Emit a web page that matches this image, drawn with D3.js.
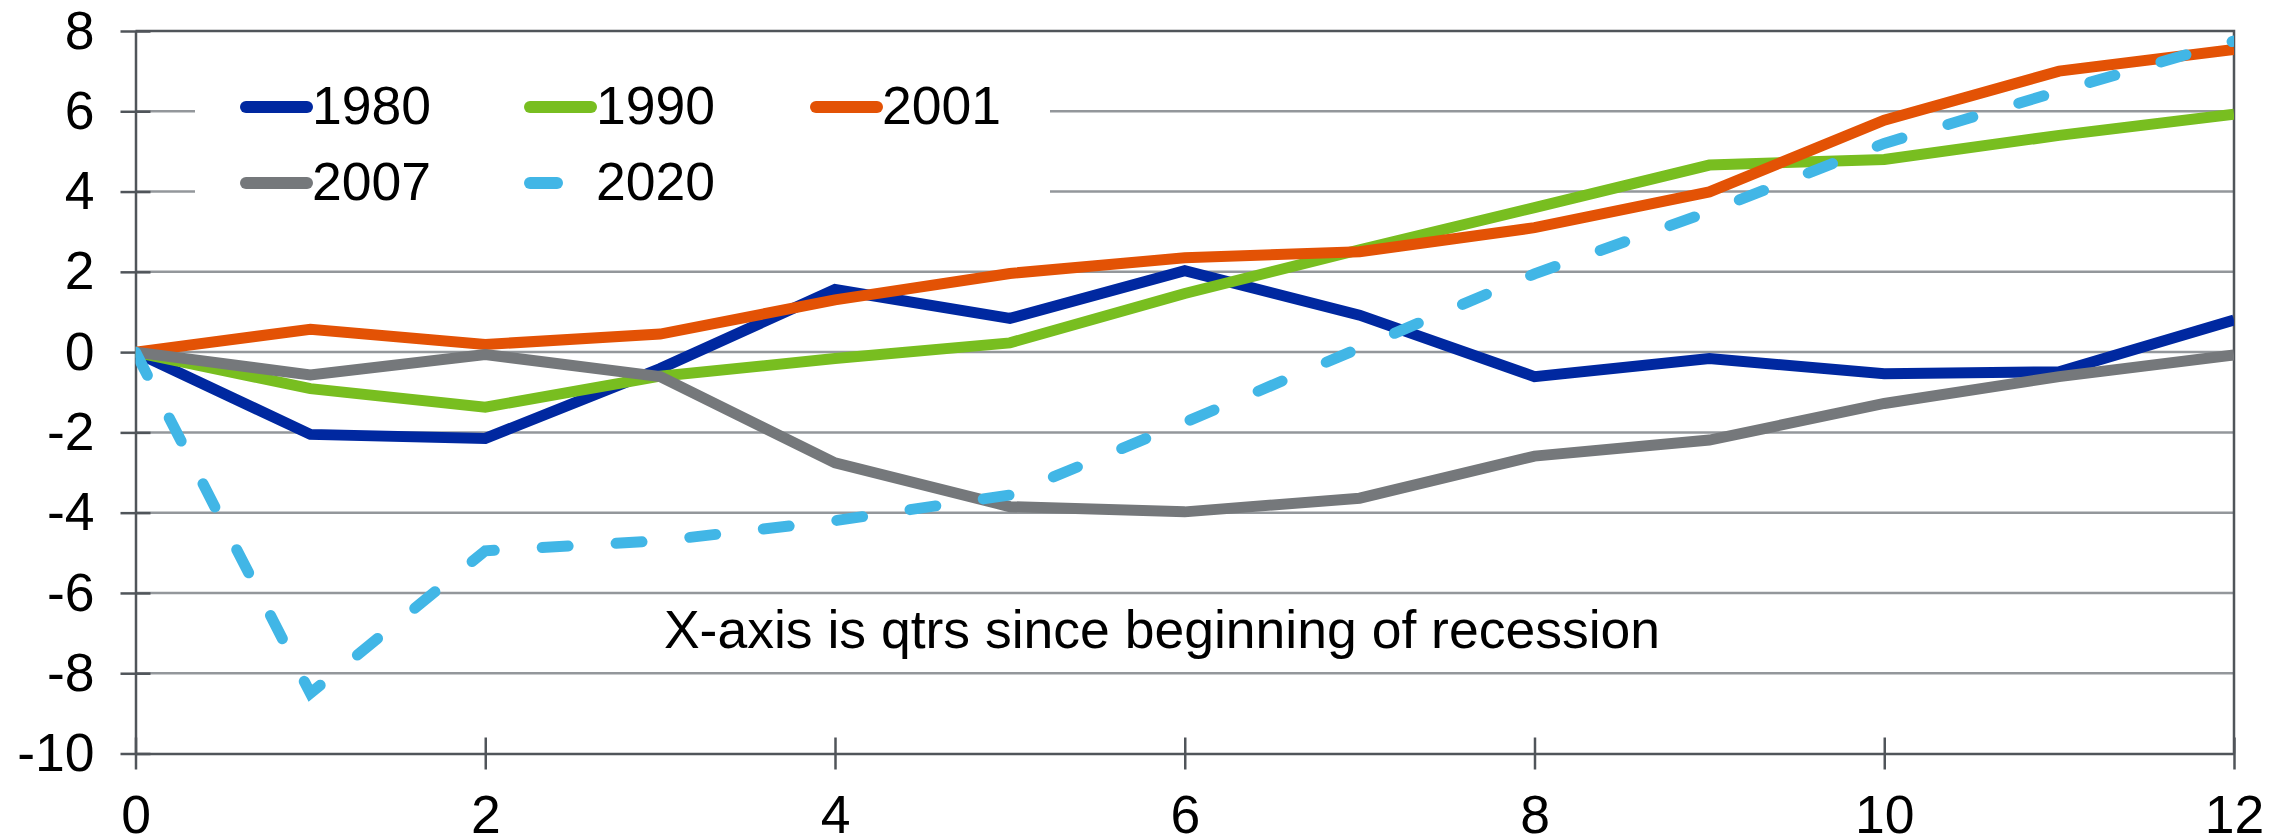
<!DOCTYPE html>
<meta charset="utf-8">
<style>
body { margin:0; background:#fff; }
text { font-family: "Liberation Sans", Arial, sans-serif; font-size:53.5px; fill:#000; }
.grid line { stroke:#93979b; stroke-width:2.5; }
.axis path, .axis line { stroke:#50555a; stroke-width:2.5; fill:none; }
.series { fill:none; stroke-width:11; stroke-linejoin:miter; }
</style>
<body>
<script src="https://d3js.org/d3.v7.min.js"></script>
<script>

// quarters since beginning of recession
var quarters = [0,1,2,3,4,5,6,7,8,9,10,11,12];

var s1980 = [0,-2.05,-2.15,-0.41,1.56,0.84,2.03,0.92,-0.61,-0.16,-0.54,-0.49,0.8];
var s1990 = [0,-0.91,-1.37,-0.6,-0.16,0.23,1.46,2.55,3.6,4.66,4.8,5.4,5.93];
var s2001 = [0,0.57,0.19,0.45,1.3,1.96,2.35,2.5,3.1,3.99,5.78,7.0,7.54];
var s2007 = [0,-0.57,-0.06,-0.61,-2.76,-3.85,-3.98,-3.64,-2.59,-2.19,-1.28,-0.61,-0.07];
var s2020 = [0,-8.5,-4.95,-4.7,-4.2,-3.56,-1.75,0.1,1.95,3.5,5.2,6.5,7.75];

var seriesNames = ["1980","1990","2001","2007","2020"];
var seriesValues = [s1980,s1990,s2001,s2007,s2020];
var colors = {"1980":"#0028a0","1990":"#78be20","2001":"#e35205","2007":"#75787b","2020":"#41b6e6"};

var yTicks = [-10,-8,-6,-4,-2,0,2,4,6,8];
var xTicks = [0,2,4,6,8,10,12];
var note = "X-axis is qtrs since beginning of recession";

var W = 2289, H = 838;
var svg = d3.select("body").append("svg").attr("width",W).attr("height",H);

var x = d3.scaleLinear().domain([0,12]).range([135.5,2234]);
var y = d3.scaleLinear().domain([-10,8]).range([753.5,31]);

// gridlines
svg.append("g").attr("class","grid")
	.selectAll("line").data(yTicks.filter(d=>d>-10 && d<8)).enter().append("line")
	.attr("x1",x(0)).attr("x2",x(12))
	.attr("y1",d=>y(d)).attr("y2",d=>y(d));

// top and right border
svg.append("path")
	.attr("d","M"+x(0)+","+y(8)+"H"+x(12)+"V"+y(-10))
	.attr("stroke","#50555a").attr("stroke-width",2.5).attr("fill","none");

// legend background
var leg = svg.append("g");
leg.append("rect").attr("x",195).attr("y",48).attr("width",855).attr("height",190).attr("fill","#fff");

// axes
var gy = svg.append("g").attr("class","axis").attr("transform","translate("+x(0)+",0)")
	.call(d3.axisLeft(y).tickValues(yTicks).tickSize(15).tickSizeOuter(0).tickPadding(26).tickFormat(d=>String(d)));
gy.selectAll(".tick line").attr("x1",15);
gy.selectAll("text").style("font-size","53.5px").style("font-family","'Liberation Sans', Arial, sans-serif");

var gx = svg.append("g").attr("class","axis").attr("transform","translate(0,"+y(-10)+")")
	.call(d3.axisBottom(x).tickValues(xTicks).tickSize(16).tickSizeOuter(0).tickPadding(26).tickFormat(d=>String(d)));
gx.selectAll(".tick line").attr("y1",-16);
gx.selectAll("text").style("font-size","53.5px").style("font-family","'Liberation Sans', Arial, sans-serif");
svg.selectAll(".domain").attr("stroke","#50555a").attr("stroke-width",2.5);

// clip lines to the plot box
svg.append("clipPath").attr("id","plot").append("rect")
	.attr("x",x(0)).attr("y",y(8)).attr("width",x(12)-x(0)).attr("height",y(-10)-y(8));

var line = d3.line().x((d,i)=>x(quarters[i])).y(d=>y(d));

svg.append("g").attr("clip-path","url(#plot)")
	.selectAll("path").data(seriesNames).enter().append("path")
	.attr("class","series")
	.attr("d",(d,i)=>line(seriesValues[i]))
	.attr("stroke",d=>colors[d])
	.attr("stroke-dasharray",d=>d=="2020"?"26,48":null)
	.attr("stroke-linecap",d=>d=="2020"?"round":"butt");

// note
svg.append("text").attr("x",1162).attr("y",648).attr("text-anchor","middle").text(note);

// legend entries
var legPos = {"1980":[246,107],"1990":[530,107],"2001":[816,107],"2007":[246,183],"2020":[530,183]};
seriesNames.forEach(function(n){
	var p = legPos[n];
	leg.append("line").attr("x1",p[0]).attr("x2",p[0]+61).attr("y1",p[1]).attr("y2",p[1])
		.attr("stroke",colors[n]).attr("stroke-width",12).attr("stroke-linecap","round")
		.attr("stroke-dasharray",n=="2020"?"27,47":null);
	leg.append("text").attr("x",p[0]+66).attr("y",p[1]+17).text(n);
});

</script>
</body>
